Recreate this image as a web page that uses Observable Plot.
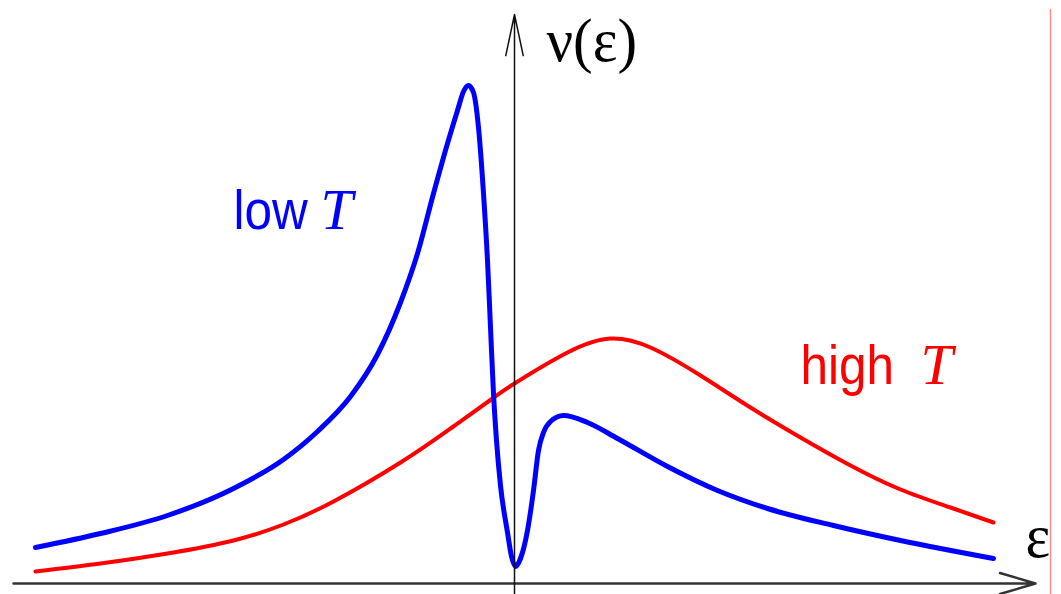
<!DOCTYPE html>
<html>
<head>
<meta charset="utf-8">
<script src="https://cdn.jsdelivr.net/npm/d3@7"></script>
<script src="https://cdn.jsdelivr.net/npm/@observablehq/plot@0.6"></script>
<style>
  html, body { margin: 0; padding: 0; background: #fff; }
  #chart svg { display: block; }
</style>
</head>
<body>
<div id="chart"></div>
<script>
// Energy ε (horizontal) and density of states ν(ε) (vertical), arbitrary units.
const lowEps = [-4.79, -4.14, -3.47, -2.81, -2.31, -1.97, -1.64, -1.37, -1.14, -0.97,
                -0.81, -0.67, -0.57, -0.51, -0.46, -0.41, -0.36, -0.31, -0.27, -0.24,
                -0.21, -0.18, -0.14, -0.07, -0.03, 0.01, 0.06, 0.13, 0.19, 0.24,
                0.29, 0.36, 0.49, 0.73, 1.03, 1.53, 2.03, 2.53, 3.19, 3.86, 4.79];
const lowNu  = [0.36, 0.50, 0.68, 0.95, 1.24, 1.52, 1.87, 2.29, 2.81, 3.30,
                3.90, 4.40, 4.73, 4.92, 4.98, 4.91, 4.56, 3.90, 3.23, 2.56,
                1.90, 1.43, 0.98, 0.51, 0.27, 0.17, 0.25, 0.53, 0.93, 1.33,
                1.51, 1.62, 1.68, 1.61, 1.45, 1.17, 0.93, 0.75, 0.58, 0.43, 0.25];

const highEps = [-4.79, -4.14, -3.47, -2.81, -2.31, -1.81, -1.14, -0.64, -0.22, 0.00,
                 0.53, 0.96, 1.36, 1.86, 2.36, 2.86, 3.36, 3.86, 4.36, 4.79];
const highNu  = [0.12, 0.20, 0.30, 0.43, 0.59, 0.82, 1.21, 1.55, 1.85, 2.00,
                 2.31, 2.45, 2.36, 2.08, 1.76, 1.46, 1.18, 0.94, 0.76, 0.61];

// Axis extents
const epsAxis = [-5.01, 5.21];
const nuAxis = [-0.11, 5.69];
const frameEps = 5.36;
const frameNu = [-0.11, 5.74];

const lowT = lowEps.map((e, i) => ({eps: e, nu: lowNu[i]}));
const highT = highEps.map((e, i) => ({eps: e, nu: highNu[i]}));

// Curve labels: sans word followed by an italic serif T
const labels = [
  {word: "low",  wordEps: -2.81, tEps: -1.94, nu: 3.55, color: "#0000ff"},
  {word: "high", wordEps: 2.86,  tEps: 4.06,  nu: 2.00, color: "#ff0000"}
];

const plot = Plot.plot({
  width: 1061,
  height: 594,
  margin: 0,
  x: {domain: [-5.14, 5.47], range: [0, 1061], axis: null},
  y: {domain: [-0.11, 5.83], range: [594, 0], axis: null},
  style: {background: "#fff", overflow: "visible"},
  marks: [
    Plot.ruleX([frameEps], {y1: frameNu[0], y2: frameNu[1], stroke: "#ff8a8a", strokeWidth: 1.5}),
    Plot.line(highT, {x: "eps", y: "nu", stroke: "#ff0000", strokeWidth: 4, curve: "natural"}),
    Plot.line(lowT, {x: "eps", y: "nu", stroke: "#0000ff", strokeWidth: 5, curve: "monotone-x"}),
    Plot.arrow([{x1: epsAxis[0], x2: epsAxis[1], y: 0}], {
      x1: "x1", x2: "x2", y1: "y", y2: "y",
      stroke: "#333", strokeWidth: 2.5, headLength: 37 * 1.5 / 2.5, headAngle: 33
    }),
    Plot.arrow([{x: 0, y1: nuAxis[0], y2: nuAxis[1]}], {
      x1: "x", x2: "x", y1: "y1", y2: "y2",
      stroke: "#111", strokeWidth: 1.5, headLength: 42, headAngle: 24
    }),
    // text marks, in this order: axis names, curve words, italic T
    Plot.text(["ν(ε)"], {
      x: 0.32, y: 5.23, text: d => d, textAnchor: "start", lineAnchor: "bottom",
      fontFamily: "Liberation Serif, Times New Roman, serif", fontSize: 62, fill: "#000"
    }),
    Plot.text(["ε"], {
      x: 5.11, y: 0.27, text: d => d, textAnchor: "start", lineAnchor: "bottom",
      fontFamily: "Liberation Serif, Times New Roman, serif", fontSize: 62, fill: "#000"
    }),
    Plot.text(labels, {
      x: "wordEps", y: "nu", text: "word", fill: "color", textAnchor: "start", lineAnchor: "bottom",
      fontFamily: "Liberation Sans, Arial, sans-serif", fontSize: 55
    }),
    Plot.text(labels, {
      x: "tEps", y: "nu", text: () => "T", fill: "color", textAnchor: "start", lineAnchor: "bottom",
      fontFamily: "Liberation Serif, Times New Roman, serif", fontStyle: "italic", fontSize: 58
    })
  ]
});

// Narrow the label glyphs horizontally about their anchor points.
function squeeze(group, sx) {
  if (!group) return;
  group.querySelectorAll("text").forEach(el => {
    let tx = 0, ty = 0;
    const tr = el.getAttribute("transform");
    if (tr) {
      const m = /translate\(\s*([-\d.e]+)[\s,]+([-\d.e]+)\s*\)/.exec(tr);
      if (m) { tx = +m[1]; ty = +m[2]; }
    }
    if (el.hasAttribute("x")) { tx += +el.getAttribute("x"); el.removeAttribute("x"); }
    if (el.hasAttribute("y")) { ty += +el.getAttribute("y"); el.removeAttribute("y"); }
    el.setAttribute("transform", `translate(${tx},${ty}) scale(${sx},1)`);
  });
}
const textGroups = Array.from(plot.querySelectorAll("g")).filter(g =>
  Array.from(g.children).some(c => c.tagName.toLowerCase() === "text"));
squeeze(textGroups[0], 0.95);
squeeze(textGroups[1], 0.95);
squeeze(textGroups[2], 0.9);
squeeze(textGroups[3], 1);

document.getElementById("chart").appendChild(plot);
</script>
</body>
</html>
